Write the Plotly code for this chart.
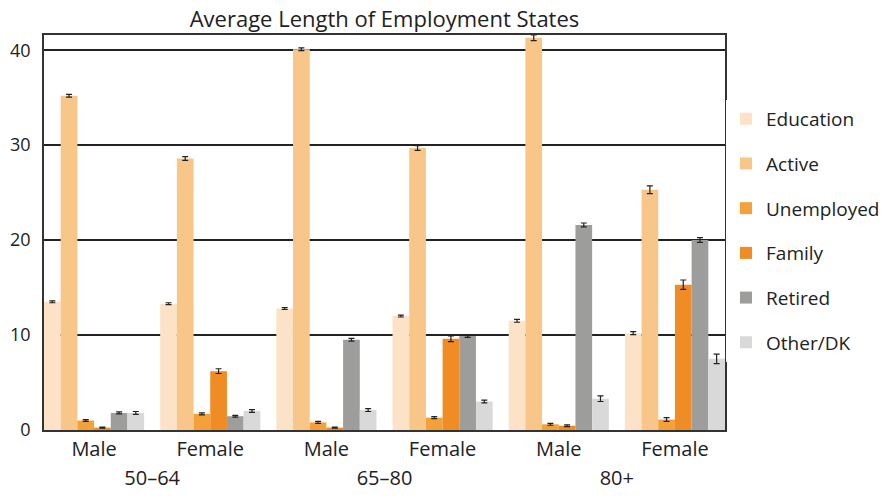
import plotly.graph_objects as go

ages = ["50–64", "50–64", "65–80", "65–80", "80+", "80+"]
sexes = ["Male", "Female", "Male", "Female", "Male", "Female"]

series = ["Education", "Active", "Unemployed", "Family", "Retired", "Other/DK"]
education = [13.5, 13.3, 12.8, 12.0, 11.5, 10.2]
active = [35.2, 28.6, 40.1, 29.7, 41.3, 25.3]
unemployed = [1.0, 1.7, 0.8, 1.3, 0.6, 1.1]
family = [0.25, 6.2, 0.25, 9.6, 0.45, 15.3]
retired = [1.8, 1.45, 9.5, 9.9, 21.6, 20.0]
other = [1.8, 2.0, 2.1, 3.0, 3.3, 7.5]

err_education = [0.1, 0.1, 0.1, 0.1, 0.15, 0.15]
err_active = [0.15, 0.2, 0.15, 0.25, 0.3, 0.4]
err_unemployed = [0.1, 0.1, 0.1, 0.1, 0.1, 0.2]
err_family = [0.05, 0.25, 0.05, 0.3, 0.1, 0.5]
err_retired = [0.1, 0.1, 0.15, 0.15, 0.2, 0.25]
err_other = [0.15, 0.15, 0.15, 0.15, 0.3, 0.5]

colors = ["#FCE2C7", "#F9C68A", "#F5A13A", "#EF8C24", "#9D9D9B", "#D9D9D9"]

values = [education, active, unemployed, family, retired, other]
errors = [err_education, err_active, err_unemployed, err_family, err_retired, err_other]

GAP = 0.138

fig = go.Figure()
for i, (name, vals, errs) in enumerate(zip(series, values, errors)):
    fig.add_trace(go.Bar(
        x=[ages, sexes], y=vals, name=name,
        marker=dict(color=colors[i], line=dict(width=0)),
        error_y=dict(type="data", array=errs, color="#222222", thickness=1.2, width=3),
        legendgroup=name,
    ))

fig.update_layout(
    width=889, height=496,
    barmode="group", bargap=GAP, bargroupgap=0,
    plot_bgcolor="white", paper_bgcolor="white",
    font=dict(family="Open Sans, Noto Sans, sans-serif", size=19, color="#222222"),
    title=dict(text="Average Length of Employment States", x=0.5, xref="paper", xanchor="center",
               y=0.977, yref="container", yanchor="middle", font=dict(size=22)),
    margin=dict(l=36, r=172, t=27, b=74),
    legend=dict(x=1.0015, y=0.504, xanchor="left", yanchor="middle",
                tracegroupgap=17, font=dict(size=19), itemwidth=30),
    showlegend=True,
)
fig.update_xaxes(showdividers=False, showline=True, linecolor="#333333", linewidth=2,
                 mirror=True, ticks="", tickfont=dict(size=20), automargin=False,
                 range=[-0.5 + GAP / 2, 5.5 - GAP / 2])
fig.update_yaxes(range=[0, 41.6], tickvals=[0, 10, 20, 30, 40], showgrid=True,
                 gridcolor="#222222", gridwidth=1.5, showline=True, linecolor="#333333",
                 linewidth=1.5, mirror=True, zeroline=False, ticks="", tickfont=dict(size=18),
                 automargin=False, ticklabelstandoff=8)

fig.write_html("out.html")
